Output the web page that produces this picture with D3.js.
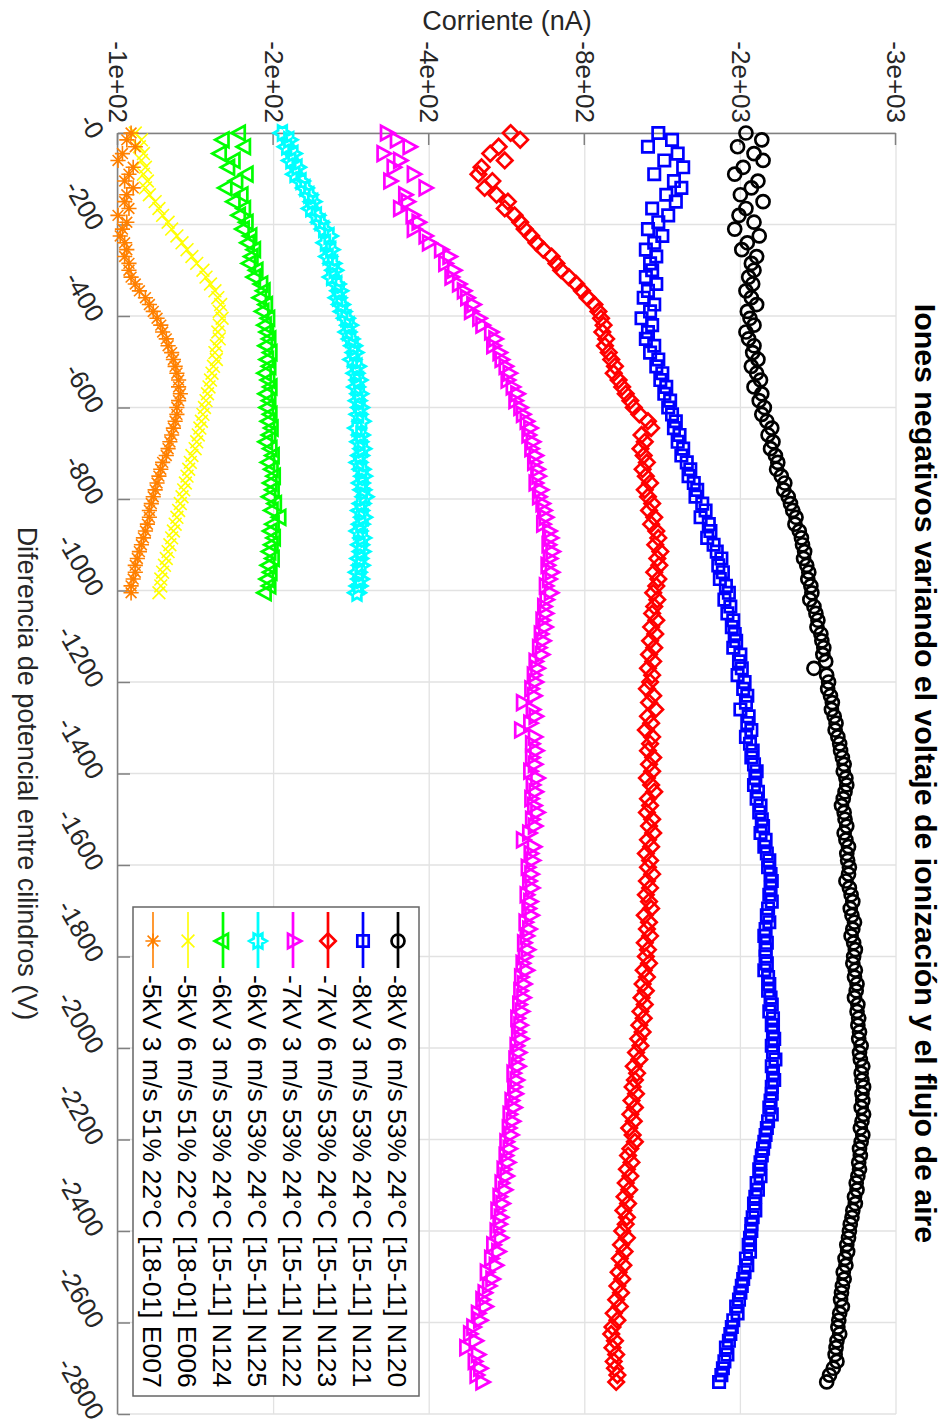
<!DOCTYPE html>
<html>
<head>
<meta charset="utf-8">
<script src="https://cdn.jsdelivr.net/npm/d3@7"></script>
<style>
  html, body { margin: 0; padding: 0; background: #fff; }
  svg { display: block; font-family: "Liberation Sans", Arial, Helvetica, sans-serif; }
</style>
</head>
<body>
<svg id="chart" width="943" height="1424"></svg>
<script>
// ---- data -------------------------------------------------------------
// Samples are taken every voltStep volts starting at 0 V (negative polarity).
const voltStep = 15;
const voltTicks = [0, -200, -400, -600, -800, -1000, -1200, -1400, -1600, -1800, -2000, -2200, -2400, -2600, -2800];
const currentTicks = [-100, -200, -400, -800, -1600, -3200];

const seriesLabels = [
  "-8kV 6 m/s 53% 24°C [15-11] N120",
  "-8kV 3 m/s 53% 24°C [15-11] N121",
  "-7kV 6 m/s 53% 24°C [15-11] N123",
  "-7kV 3 m/s 53% 24°C [15-11] N122",
  "-6kV 6 m/s 53% 24°C [15-11] N125",
  "-6kV 3 m/s 53% 24°C [15-11] N124",
  "-5kV 6 m/s 51% 22°C [18-01] E006",
  "-5kV 3 m/s 51% 22°C [18-01] E007"
];

// Current (nA) per sample, 0 V to -2730 V
const currentN120 = [
  -1640, -1760, -1580, -1700, -1770, -1620, -1560, -1730, -1680, -1600,
  -1770, -1640, -1590, -1700, -1560, -1740, -1650, -1610, -1720, -1680,
  -1700, -1660, -1690, -1640, -1680, -1720, -1650, -1670, -1700, -1640,
  -1660, -1700, -1690, -1730, -1680, -1720, -1750, -1700, -1760, -1740,
  -1780, -1760, -1800, -1840, -1810, -1850, -1830, -1870, -1890, -1880,
  -1920, -1950, -1940, -1980, -2000, -2020, -2050, -2040, -2080, -2100,
  -2110, -2130, -2120, -2150, -2170, -2160, -2190, -2200, -2180, -2220,
  -2240, -2260, -2250, -2290, -2300, -2320, -2310, -2340, -2220, -2350,
  -2370, -2360, -2390, -2410, -2400, -2430, -2450, -2440, -2470, -2490,
  -2500, -2520, -2540, -2530, -2560, -2570, -2550, -2530, -2510, -2540,
  -2550, -2570, -2540, -2560, -2590, -2570, -2580, -2600, -2590, -2560,
  -2600, -2620, -2640, -2610, -2630, -2660, -2640, -2620, -2650, -2670,
  -2650, -2640, -2670, -2660, -2690, -2680, -2660, -2700, -2690, -2710,
  -2700, -2720, -2710, -2740, -2720, -2730, -2760, -2740, -2750, -2770,
  -2750, -2760, -2740, -2770, -2750, -2730, -2760, -2740, -2720, -2730,
  -2710, -2720, -2700, -2680, -2690, -2660, -2670, -2640, -2630, -2610,
  -2600, -2590, -2570, -2580, -2550, -2560, -2530, -2540, -2520, -2510,
  -2500, -2520, -2490, -2480, -2470, -2490, -2460, -2450, -2440, -2460,
  -2420, -2380, -2350
];
const currentN121 = [
  -1110, -1180, -1060, -1210, -1140, -1240, -1090, -1190, -1230, -1150,
  -1200, -1080, -1160, -1110, -1060, -1130, -1090, -1050, -1100, -1070,
  -1080, -1050, -1100, -1060, -1040, -1090, -1070, -1030, -1080, -1060,
  -1050, -1090, -1070, -1110, -1100, -1130, -1120, -1150, -1140, -1170,
  -1160, -1180, -1200, -1190, -1220, -1210, -1240, -1230, -1260, -1280,
  -1270, -1300, -1320, -1310, -1350, -1370, -1340, -1390, -1400, -1380,
  -1420, -1440, -1470, -1450, -1480, -1460, -1500, -1520, -1490, -1530,
  -1510, -1550, -1540, -1560, -1570, -1550, -1600, -1590, -1610, -1580,
  -1630, -1620, -1650, -1640, -1600, -1660, -1650, -1680, -1640, -1670,
  -1690, -1680, -1700, -1720, -1710, -1700, -1730, -1720, -1750, -1740,
  -1760, -1770, -1750, -1790, -1780, -1800, -1820, -1810, -1830, -1840,
  -1830, -1820, -1840, -1810, -1800, -1820, -1790, -1780, -1800, -1790,
  -1790, -1800, -1780, -1810, -1820, -1810, -1830, -1840, -1820, -1850,
  -1840, -1850, -1860, -1840, -1850, -1870, -1840, -1850, -1860, -1840,
  -1840, -1830, -1820, -1840, -1810, -1800, -1790, -1780, -1770, -1760,
  -1750, -1740, -1750, -1720, -1730, -1710, -1700, -1710, -1690, -1680,
  -1680, -1670, -1660, -1670, -1640, -1650, -1630, -1620, -1610, -1600,
  -1590, -1570, -1580, -1550, -1540, -1530, -1520, -1500, -1510, -1490,
  -1480, -1470, -1455
];
const currentN123 = [
  -575, -600, -545, -525, -560, -505, -498, -530, -512, -540,
  -568, -560, -585, -600, -612, -630, -645, -665, -690, -705,
  -720, -745, -770, -790, -810, -835, -850, -860, -870, -865,
  -880, -875, -890, -900, -915, -910, -930, -945, -960, -980,
  -995, -1020, -1060, -1075, -1030, -1045, -1025, -1040, -1055, -1035,
  -1050, -1070, -1045, -1060, -1080, -1065, -1090, -1075, -1100, -1110,
  -1095, -1120, -1105, -1115, -1090, -1110, -1100, -1085, -1105, -1090,
  -1080, -1100, -1075, -1095, -1070, -1090, -1065, -1085, -1060, -1080,
  -1070, -1055, -1085, -1065, -1095, -1060, -1075, -1050, -1080, -1070,
  -1060, -1085, -1065, -1080, -1055, -1075, -1090, -1060, -1070, -1055,
  -1080, -1065, -1085, -1060, -1075, -1050, -1070, -1060, -1080, -1055,
  -1070, -1050, -1065, -1075, -1045, -1065, -1055, -1070, -1045, -1060,
  -1050, -1065, -1040, -1055, -1035, -1050, -1030, -1045, -1025, -1040,
  -1020, -1035, -1015, -1025, -1005, -1020, -995, -1010, -1000, -990,
  -1005, -985, -1000, -980, -995, -975, -990, -1000, -980, -970,
  -985, -965, -980, -960, -975, -955, -970, -950, -965, -960,
  -945, -965, -940, -955, -935, -950, -930, -945, -925, -940,
  -920, -935, -910, -925, -905, -900, -915, -905, -920, -910,
  -915, -925, -920
];
const currentN122 = [
  -330, -345, -365, -325, -350, -340, -372, -335, -392, -358,
  -362, -350, -370, -380, -372, -392, -398, -420, -436, -428,
  -445, -440, -455, -465, -472, -485, -480, -498, -505, -525,
  -535, -530, -545, -550, -560, -570, -565, -578, -590, -585,
  -598, -605, -615, -625, -620, -632, -628, -640, -636, -645,
  -648, -640, -655, -650, -660, -665, -670, -662, -680, -685,
  -678, -690, -682, -675, -688, -680, -670, -685, -672, -665,
  -670, -660, -668, -655, -662, -650, -658, -640, -645, -635,
  -640, -628, -636, -605, -632, -640, -625, -600, -638, -630,
  -642, -630, -638, -625, -645, -632, -640, -628, -636, -645,
  -630, -638, -622, -605, -635, -626, -632, -618, -628, -622,
  -630, -615, -625, -620, -628, -612, -622, -615, -608, -618,
  -610, -604, -615, -600, -608, -598, -606, -595, -602, -590,
  -598, -592, -600, -588, -594, -585, -592, -580, -588, -582,
  -585, -575, -582, -570, -578, -568, -574, -562, -570, -560,
  -566, -555, -562, -550, -558, -545, -552, -540, -548, -545,
  -538, -548, -530, -542, -525, -536, -515, -528, -520, -510,
  -505, -512, -495, -500, -485, -478, -490, -470, -495, -488,
  -500, -492, -505
];
// Current (nA) per sample, 0 V to -1005 V
const currentN125 = [
  -208, -214, -212, -218, -216, -222, -220, -226, -230, -234,
  -238, -236, -242, -246, -250, -256, -252, -258, -255, -260,
  -262, -259, -265, -268, -266, -270, -272, -276, -280, -278,
  -282, -285, -287, -284, -290, -288, -292, -289, -293, -291,
  -294, -292, -296, -290, -295, -293, -297, -294, -292, -296,
  -298, -295, -297, -300, -296, -294, -298, -295, -292, -297,
  -294, -296, -293, -295, -291, -294, -292, -290
];
const currentN124 = [
  -172, -160, -176, -158, -168, -164, -178, -170, -162, -174,
  -168, -176, -172, -178, -175, -181, -179, -184, -182, -180,
  -186, -184, -190, -192, -189, -194, -191, -196, -193, -195,
  -197, -194, -198, -195, -197, -193, -196, -198, -194, -197,
  -195, -198, -196, -199, -197, -194, -198, -200, -196, -199,
  -201, -198, -200, -197, -202, -199, -206, -200, -198, -201,
  -199, -197, -200, -196, -198, -195, -197, -193
];
const currentE006 = [
  -108, -111, -110, -112, -111, -113, -112, -114, -113, -115,
  -118, -120, -122, -125, -127, -130, -133, -136, -139, -142,
  -146, -148, -151, -154, -156, -158, -157, -159, -157, -156,
  -157, -155, -154, -155, -153, -152, -151, -150, -149, -148,
  -147, -146, -145, -144, -143, -142, -141, -139, -138, -137,
  -136, -135, -134, -133, -132, -131, -130, -129, -128, -127,
  -126, -125, -124, -123, -122, -121, -121, -120
];
const currentE007 = [
  -106, -104, -108, -102, -100, -107, -105, -103, -107, -104,
  -103, -105, -100, -104, -102, -101, -103, -104, -103, -105,
  -105, -106, -108, -110, -113, -115, -117, -119, -121, -122,
  -124, -125, -127, -128, -129, -130, -131, -131, -132, -131,
  -130, -130, -129, -128, -127, -126, -125, -124, -122, -121,
  -120, -119, -118, -117, -116, -115, -115, -114, -113, -112,
  -111, -110, -109, -108, -108, -107, -106, -106
];

// ---- styling ------------------------------------------------------------
const seriesColors = ["#000000", "#0000ff", "#ff0000", "#ff00ff", "#00ffff", "#00ff00", "#ffff00", "#ff8000"];
const seriesMarkers = ["circle", "square", "diamond", "triUp", "hexagram", "triDown", "cross", "asterisk"];
const seriesWidths = [2.7, 2.7, 2.7, 2.7, 2.8, 2.7, 1.6, 1.6];
const seriesValues = [currentN120, currentN121, currentN123, currentN122, currentN125, currentN124, currentE006, currentE007];

function markerPath(kind) {
  switch (kind) {
    case "circle": { const r = 6.5; return `M${r},0A${r},${r} 0 1,1 ${-r},0A${r},${r} 0 1,1 ${r},0Z`; }
    case "square": { const s = 5.7; return `M${-s},${-s}H${s}V${s}H${-s}Z`; }
    case "diamond": { const s = 7.7; return `M0,${-s}L${s},0L0,${s}L${-s},0Z`; }
    case "triUp": return "M0,-8.3L7.3,5L-7.3,5Z";
    case "triDown": return "M0,8.3L7.3,-5L-7.3,-5Z";
    case "hexagram": {
      const R = 8.6, r = R / Math.sqrt(3);
      const pts = d3.range(12).map(i => {
        const a = -Math.PI / 2 + i * Math.PI / 6, rr = i % 2 ? r : R;
        return [rr * Math.cos(a), rr * Math.sin(a)];
      });
      return "M" + pts.map(p => p.join(",")).join("L") + "Z";
    }
    case "cross": { const s = 6.4; return `M${-s},${-s}L${s},${s}M${-s},${s}L${s},${-s}`; }
    case "asterisk": { const s = 7.6, t = 5.4; return `M${-s},0H${s}M0,${-s}V${s}M${-t},${-t}L${t},${t}M${-t},${t}L${t},${-t}`; }
  }
}

const fmtCurrent = v => d3.format(".0e")(v).replace("\u2212", "-").replace(/e([+-])(\d)$/, "e$10$2");
const fmtVolt = v => "-" + Math.abs(v);

// ---- layout (landscape frame, turned a quarter clockwise onto the page) ----
const svg = d3.select("#chart");
const root = svg.append("g").attr("transform", "translate(943,0) rotate(90)");
const plot = { left: 133, right: 1414, top: 47, bottom: 825 };

const x = d3.scaleLinear().domain([0, -2800]).range([plot.left, plot.right]);
const y = d3.scaleLog().domain([-100, -3200]).range([plot.bottom, plot.top]);

// grid
const grid = root.append("g").attr("stroke", "#e2e2e2").attr("stroke-width", 1.3);
grid.selectAll("line.gx").data(voltTicks).join("line").attr("class", "gx")
  .attr("x1", d => x(d)).attr("x2", d => x(d)).attr("y1", plot.top).attr("y2", plot.bottom);
grid.selectAll("line.gy").data(currentTicks).join("line").attr("class", "gy")
  .attr("y1", d => y(d)).attr("y2", d => y(d)).attr("x1", plot.left).attr("x2", plot.right);

// axes
const axisColor = "#808080";
const gx = root.append("g").attr("transform", `translate(0,${plot.bottom})`)
  .call(d3.axisBottom(x).tickValues(voltTicks).tickSizeInner(-12).tickSizeOuter(0).tickFormat(fmtVolt));
gx.attr("font-family", null).attr("font-size", 26);
gx.select(".domain").attr("stroke", axisColor).attr("stroke-width", 1.5);
gx.selectAll(".tick line").attr("stroke", axisColor).attr("stroke-width", 1.5);
gx.selectAll(".tick text").attr("fill", "#262626").attr("text-anchor", "end")
  .attr("y", 0).attr("dy", "0.72em").attr("transform", "translate(-2,12) rotate(-30)");

const gy = root.append("g").attr("transform", `translate(${plot.left},0)`)
  .call(d3.axisLeft(y).tickValues(currentTicks).tickSizeInner(-12).tickSizeOuter(0).tickPadding(10).tickFormat(fmtCurrent));
gy.attr("font-family", null).attr("font-size", 26);
gy.select(".domain").attr("stroke", axisColor).attr("stroke-width", 1.5);
gy.selectAll(".tick line").attr("stroke", axisColor).attr("stroke-width", 1.5);
gy.selectAll(".tick text").attr("fill", "#262626");

// data markers
seriesValues.forEach((vals, k) => {
  const pts = vals.map((v, i) => ({ v: -i * voltStep, c: v }));
  root.append("g")
    .attr("fill", "none").attr("stroke", seriesColors[k]).attr("stroke-width", seriesWidths[k])
    .selectAll("path").data(pts).join("path")
    .attr("transform", d => `translate(${x(d.v)},${y(d.c)})`)
    .attr("d", markerPath(seriesMarkers[k]));
});

// labels and title
root.append("text").attr("x", (plot.left + plot.right) / 2).attr("y", 28)
  .attr("text-anchor", "middle").attr("font-size", 30.3).attr("font-weight", "bold").attr("fill", "#000")
  .text("Iones negativos variando el voltaje de ionización y el flujo de aire");
root.append("text").attr("x", (plot.left + plot.right) / 2).attr("y", 925)
  .attr("text-anchor", "middle").attr("font-size", 27).attr("fill", "#262626")
  .text("Diferencia de potencial entre cilindros (V)");
root.append("text").attr("transform", `translate(30,${(plot.top + plot.bottom) / 2}) rotate(-90)`)
  .attr("text-anchor", "middle").attr("font-size", 27).attr("fill", "#262626")
  .text("Corriente (nA)");

// legend
const legend = root.append("g").attr("transform", "translate(907,524)");
legend.append("rect").attr("width", 489).attr("height", 286)
  .attr("fill", "#fff").attr("stroke", "#666").attr("stroke-width", 1.5);
seriesLabels.forEach((lab, k) => {
  const row = legend.append("g").attr("transform", `translate(0,${21 + k * 35})`);
  row.append("line").attr("x1", 5).attr("x2", 61)
    .attr("stroke", seriesColors[k]).attr("stroke-width", seriesWidths[k]);
  row.append("path").attr("transform", "translate(34,0)").attr("d", markerPath(seriesMarkers[k]))
    .attr("fill", "none").attr("stroke", seriesColors[k]).attr("stroke-width", seriesWidths[k]);
  row.append("text").attr("x", 68).attr("dy", "0.36em").attr("font-size", 26.5).attr("fill", "#000").text(lab);
});
</script>
</body>
</html>
